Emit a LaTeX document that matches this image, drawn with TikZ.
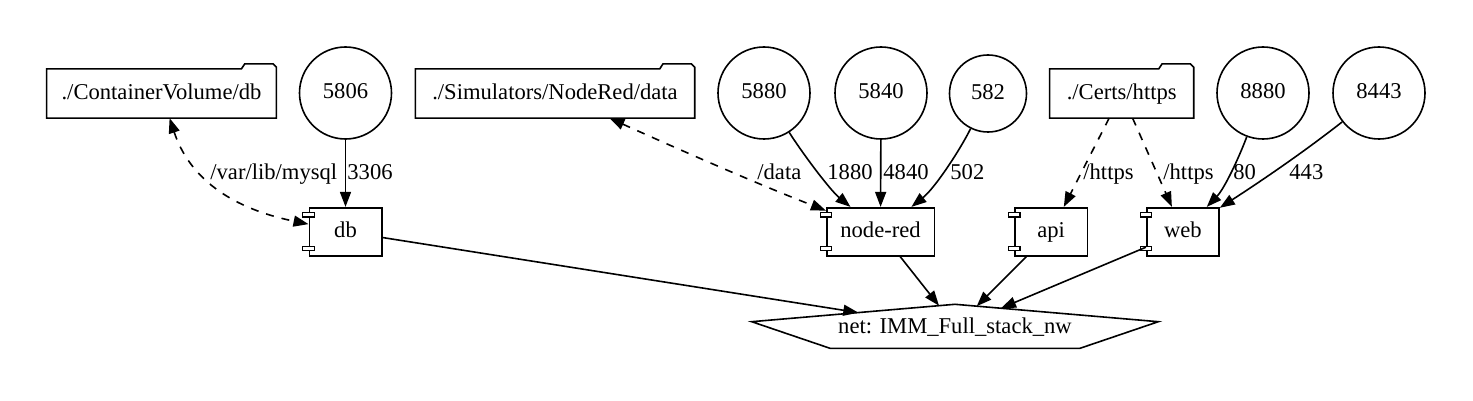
\documentclass[tikz,border=0pt]{standalone}
\usepackage{fontspec}
\setmainfont{Liberation Serif}
\usetikzlibrary{arrows.meta,calc}
\newcommand\folderoutline[1]{%
  \draw[line width=0.8pt] (#1.south west) -- (#1.north west) -- ([xshift=-17.5pt]#1.north east)
    -- ([xshift=-15.85pt,yshift=2.5pt]#1.north east) -- ([xshift=-1.65pt,yshift=2.5pt]#1.north east)
    -- ([yshift=0.85pt]#1.north east) -- (#1.south east) -- cycle;}
\newcommand\compports[1]{%
  \draw[line width=0.6pt,fill=white] ([xshift=-2.85pt,yshift=-2.8pt]#1.north west) rectangle ++(5.7pt,-2.2pt);
  \draw[line width=0.6pt,fill=white] ([xshift=-2.85pt,yshift=2.85pt]#1.south west) rectangle ++(5.7pt,2.2pt);}
\begin{document}
\begin{tikzpicture}[x=0.5pt,y=-0.5pt,
  every node/.style={font=\fontsize{11.3}{13}\selectfont, text height=7.5pt, text depth=1.7pt},
  port/.style={circle,draw,line width=0.8pt,minimum size=46pt,inner sep=0pt},
  folder/.style={rectangle,inner sep=0pt,minimum height=24.2pt},
  comp/.style={rectangle,draw,line width=0.8pt,inner sep=0pt,minimum height=24pt},
  lbl/.style={anchor=base west,inner sep=0pt},
  link/.style={line width=0.8pt,-{Triangle[length=7.5pt,width=5.5pt]}},
  vol/.style={line width=0.8pt,dash pattern=on 4pt off 4pt,{Triangle[length=7.5pt,width=5.5pt]}-{Triangle[length=7.5pt,width=5.5pt]}},
  cert/.style={line width=0.8pt,dash pattern=on 4pt off 4pt,-{Triangle[length=7.5pt,width=5.5pt]}},
  netshape/.style={line width=0.8pt}
]
\useasboundingbox (0,0) rectangle (1473,401);

% folders
\node[folder,minimum width=114.5pt] (cv) at (161.5,93.5) {./ContainerVolume/db};
\node[folder,minimum width=139.3pt] (sim) at (555,93.5) {./Simulators/NodeRed/data};
\node[folder,minimum width=71.65pt] (certs) at (1121.7,93.5) {./Certs/https};
\folderoutline{cv}
\folderoutline{sim}
\folderoutline{certs}

% ports
\node[port] (p5806) at (345.5,93) {5806};
\node[port] (p5880) at (764,93) {5880};
\node[port] (p5840) at (881,93) {5840};
\node[port,minimum size=38.5pt] (p582) at (988,93.5) {582};
\node[port] (p8880) at (1263,93) {8880};
\node[port] (p8443) at (1379,93) {8443};

% components
\node[comp,minimum width=36.2pt] (db) at (345.5,231.7) {db};
\node[comp,minimum width=53.8pt] (nr) at (880.5,231.7) {node-red};
\node[comp,minimum width=36.15pt] (api) at (1051.15,231.7) {api};
\node[comp,minimum width=36.15pt] (web) at (1182.85,231.7) {web};
\compports{db}
\compports{nr}
\compports{api}
\compports{web}

% network
\node[inner sep=0pt] (net) at (955,327.5) {net: IMM\_Full\_stack\_nw};
\draw[netshape] (751.7,321.7) -- (955,304.3) -- (1158.3,321.7) -- (1080,348.3) -- (830,348.3) -- cycle;
\coordinate (netdb) at (858.3,312.6);
\coordinate (netnr) at (939,305.7);
\coordinate (netapi) at (976.7,306.2);
\coordinate (netweb) at (1001,308.2);

% edges
\draw[vol] (cv) .. controls (185,165) and (215,205) .. (db);
\draw[link] (p5806) -- (db);
\draw[vol] (sim) .. controls (680,150) and (760,185) .. (nr);
\draw[link] (p5880) .. controls (803,154) and (830,190) .. (nr);
\draw[link] (p5840) -- (nr);
\draw[link] (p582) .. controls (960,150) and (935,188) .. (nr);
\draw[cert] (certs) -- (api);
\draw[cert] (certs) -- (web);
\draw[link] (p8880) .. controls (1240,155) and (1225,188) .. (web);
\draw[link] (p8443) .. controls (1300,155) and (1255,185) .. (web);

\draw[link] (db) -- (netdb);
\draw[link] (nr) -- (netnr);
\draw[link] (api) -- (netapi);
\draw[link] (web) -- (netweb);

% labels
\node[lbl] (l1) at (210,179.5) {/var/lib/mysql};
\node[lbl] (l2) at (347,179.5) {3306};
\node[lbl] (l3) at (757,179.5) {/data};
\node[lbl] (l4) at (827,179.5) {1880};
\node[lbl] (l5) at (883,179.5) {4840};
\node[lbl] (l6) at (950,179.5) {502};
\node[lbl] (l7) at (1083,179.5) {/https};
\node[lbl] (l8) at (1163,179.5) {/https};
\node[lbl] (l9) at (1233,179.5) {80};
\node[lbl] (l10) at (1289,179.5) {443};
\end{tikzpicture}
\end{document}
